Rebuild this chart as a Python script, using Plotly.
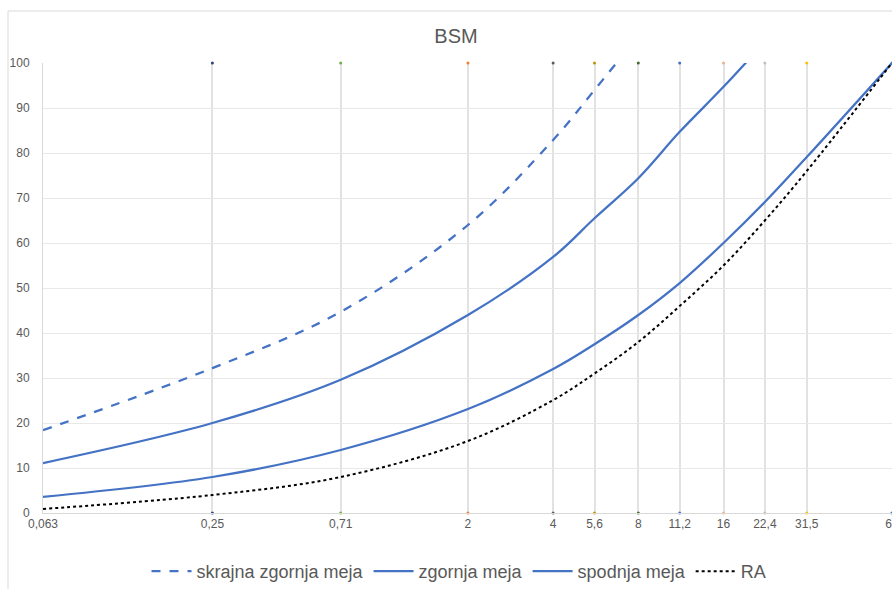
import plotly.graph_objects as go

sieves = [0.063, 0.25, 0.71, 2, 4, 5.6, 8, 11.2, 16, 22.4, 31.5, 63]
tick_labels = ["0,063", "0,25", "0,71", "2", "4", "5,6", "8", "11,2", "16", "22,4", "31,5", "63"]

skrajna_x = [0.063, 0.25, 0.71, 2, 4, 5.6, 8]
skrajna_zgornja = [18.4, 32.2, 44.7, 64.0, 82.9, 94.0, 106.0]

zgornja_x = [0.063, 0.25, 0.71, 2, 4, 5.6, 8, 11.2, 16, 22.4]
zgornja = [11.1, 20.0, 29.6, 44.0, 56.9, 65.5, 74.4, 84.7, 94.7, 104.7]

spodnja = [3.6, 8.0, 14.0, 23.1, 32.0, 37.5, 44.0, 51.1, 60.0, 69.1, 79.1, 100.0]
ra = [0.9, 4.0, 8.0, 16.0, 25.1, 31.0, 38.0, 46.0, 55.0, 65.0, 76.0, 100.0]

grid_dot_x = sieves[1:]
grid_dot_colors = ["#264478", "#70AD47", "#ED7D31", "#595959", "#BF9000", "#43682B",
                   "#4472C4", "#F4B183", "#BFBFBF", "#FFC000", "#4472C4"]

BLUE = "#4472C4"
TXT = "#595959"
FONT = "Liberation Sans"

fig = go.Figure()

# small coloured dots at ends of vertical grid lines
fig.add_trace(go.Scatter(x=grid_dot_x + grid_dot_x, y=[0] * len(grid_dot_x) + [100] * len(grid_dot_x),
                         mode="markers", marker=dict(size=3, color=grid_dot_colors + grid_dot_colors),
                         showlegend=False, hoverinfo="skip", cliponaxis=False))

fig.add_trace(go.Scatter(x=skrajna_x, y=skrajna_zgornja, name="skrajna zgornja meja",
                         mode="lines", line=dict(color=BLUE, width=2.25, dash="dash", shape="spline")))
fig.add_trace(go.Scatter(x=zgornja_x, y=zgornja, name="zgornja meja",
                         mode="lines", line=dict(color=BLUE, width=2.25, shape="spline")))
fig.add_trace(go.Scatter(x=sieves, y=spodnja, name="spodnja meja",
                         mode="lines", line=dict(color=BLUE, width=2.25, shape="spline")))
fig.add_trace(go.Scatter(x=sieves, y=ra, name="RA",
                         mode="lines", line=dict(color="#000000", width=2, dash="dot", shape="spline")))

fig.update_layout(
    width=892, height=589,
    margin=dict(l=43, r=0, t=63, b=76, autoexpand=False),
    paper_bgcolor="white", plot_bgcolor="white",
    font=dict(family=FONT, color=TXT),
    title=dict(text="BSM", x=456 / 892, xanchor="center", y=1 - 36 / 589, yanchor="middle",
               font=dict(size=20, color=TXT, family=FONT)),
    showlegend=True,
    legend=dict(orientation="h", x=(459 - 43) / 849, xanchor="center", y=-0.13, yanchor="middle",
                font=dict(size=18, color=TXT, family=FONT), itemwidth=40, traceorder="normal"),
    xaxis=dict(type="log", range=[-1.2007, 1.7995], tickvals=sieves, ticktext=tick_labels,
               showgrid=True, gridcolor="#E2E2E2", gridwidth=2, zeroline=False,
               showline=True, linecolor="#D9D9D9", linewidth=1, ticks="",
               ticklabeloverflow="allow", automargin=False,
               tickfont=dict(size=12, color=TXT)),
    yaxis=dict(range=[0, 100], dtick=10, showgrid=True, gridcolor="#E8E8E8", gridwidth=1,
               zeroline=False, showline=True, linecolor="#D9D9D9", linewidth=1, ticks="",
               automargin=False,
               ticklabelstandoff=10, tickfont=dict(size=12, color=TXT)),
    shapes=[
        dict(type="line", xref="paper", yref="paper", x0=(8 - 43) / 849, x1=1.0,
             y0=1 + (63 - 11) / 450, y1=1 + (63 - 11) / 450, line=dict(color="#D9D9D9", width=1)),
        dict(type="line", xref="paper", yref="paper", x0=(8 - 43) / 849, x1=(8 - 43) / 849,
             y0=1 + (63 - 11) / 450, y1=-(589 - 513) / 450, line=dict(color="#D9D9D9", width=1)),
    ],
)

fig.write_html("out.html")
